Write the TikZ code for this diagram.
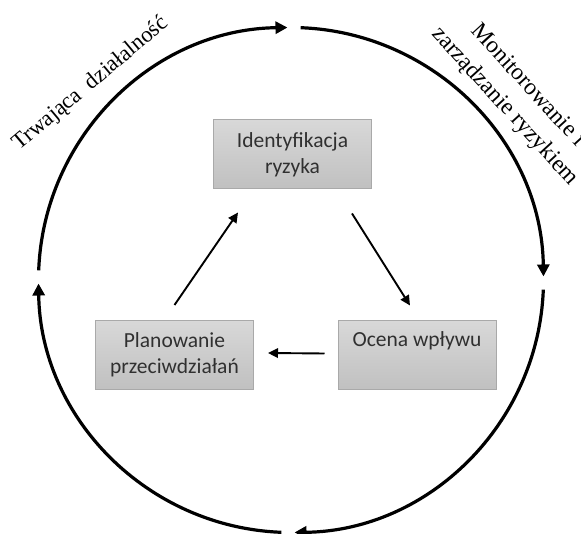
\documentclass[tikz,border=0pt]{standalone}
\usepackage{fontspec}
\setmainfont{Liberation Serif}
\newfontfamily\boxfont{Carlito}
\usetikzlibrary{arrows.meta,calc}
\definecolor{boxtop}{HTML}{D8D8D8}
\definecolor{boxbot}{HTML}{C0C0C0}
\definecolor{boxline}{HTML}{A9A9A9}
\definecolor{boxtext}{HTML}{303030}
\begin{document}
\begin{tikzpicture}[x=1pt,y=1pt,
  box/.style={draw=boxline, line width=1pt, top color=boxtop, bottom color=boxbot,
    minimum width=158pt, minimum height=69pt, inner sep=0pt, align=center,
    font=\boxfont\fontsize{21.5}{26}\selectfont, text=boxtext},
  cyc/.style={line width=3.2pt, -{Triangle[length=12pt,width=12pt]}},
  flow/.style={line width=1.9pt, -{Triangle[length=10pt,width=9.5pt]}},
  lab/.style={font=\fontsize{23.5}{31}\selectfont, align=center, inner sep=0pt}]
\useasboundingbox (0,0) rectangle (581,533);
\clip (0,0) rectangle (581,533);
\coordinate (C) at (291,253);
\def\cycR{252.5}
\foreach \s/\e in {177.8/90.8, 87.8/0.8, -2.2/-89.2, -92.2/-179.2}
  \draw[cyc] ($(C)+(\s:\cycR)$) arc[start angle=\s, end angle=\e, radius=\cycR];
\node[box] (ident) at (292.5,378.5) {Identyfikacja\\ryzyka};
\node[box] (plan) at (174.5,178) {Planowanie\\przeciwdziałań};
\node[box] (ocena) at (417,177.5) {Ocena wpływu\\\strut};
\draw[flow] ([yshift=15pt]plan.north) -- ([xshift=25pt,yshift=-23pt]ident.south west);
\draw[flow] ([xshift=-20pt,yshift=-24pt]ident.south east) -- ([xshift=-7pt,yshift=15pt]ocena.north);
\draw[flow] ([xshift=-13pt,yshift=2pt]ocena.west) -- ([xshift=14pt,yshift=2pt]plan.east);
\node[lab, font=\fontsize{22.5}{27}\selectfont, rotate=40] (cont) at (91,449) {Trwająca\hspace{0.25em} działalność};
\node[lab, rotate=-47.5] (mon) at (516,436.5) {Monitorowanie i\\zarządzanie ryzykiem};
\end{tikzpicture}
\end{document}
